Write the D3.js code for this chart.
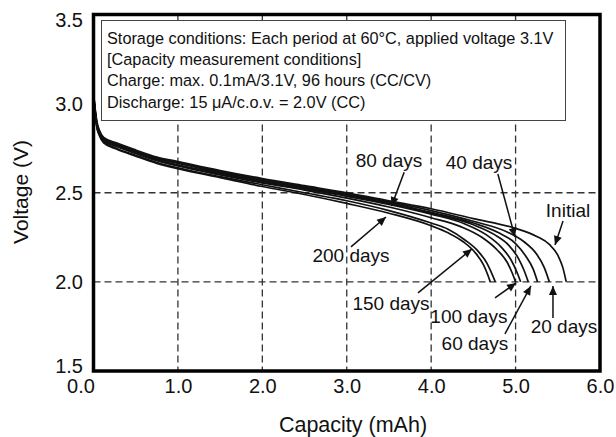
<!DOCTYPE html>
<html>
<head>
<meta charset="utf-8">
<script src="https://cdn.jsdelivr.net/npm/d3@7"></script>
<style>
body { margin: 0; background: #fff; }
text { font-family: "Liberation Sans", Arial, Helvetica, sans-serif; fill: #111; }
</style>
</head>
<body>
<div id="chart"></div>
<script>
// discharge curves, [capacity mAh, voltage V]
let curveInitial = [[0,3.06],[0.02,2.97],[0.04,2.90],[0.07,2.85],[0.12,2.81],[0.27,2.78],[0.5,2.74],[0.75,2.70],[1.0,2.675],[1.5,2.625],[2.0,2.58],[2.5,2.54],[3.0,2.50],[3.5,2.455],[4.0,2.41],[4.5,2.355],[5.0,2.30],[5.25,2.255],[5.4,2.21],[5.5,2.15],[5.56,2.08],[5.6,2.0]]
let curve20 = [[0,3.06],[0.02,2.96],[0.04,2.89],[0.07,2.845],[0.12,2.805],[0.27,2.775],[0.5,2.735],[0.75,2.695],[1.0,2.67],[1.5,2.62],[2.0,2.575],[2.5,2.535],[3.0,2.495],[3.5,2.45],[4.0,2.40],[4.5,2.34],[4.9,2.28],[5.1,2.225],[5.25,2.155],[5.34,2.08],[5.4,2.0]]
let curve40 = [[0,3.05],[0.02,2.96],[0.04,2.885],[0.07,2.84],[0.12,2.80],[0.27,2.77],[0.5,2.73],[0.75,2.69],[1.0,2.665],[1.5,2.615],[2.0,2.57],[2.5,2.53],[3.0,2.49],[3.5,2.445],[4.0,2.39],[4.5,2.33],[4.8,2.275],[5.0,2.215],[5.12,2.145],[5.21,2.07],[5.26,2.0]]
let curve60 = [[0,3.05],[0.02,2.95],[0.04,2.88],[0.07,2.835],[0.12,2.80],[0.27,2.765],[0.5,2.725],[0.75,2.685],[1.0,2.655],[1.5,2.61],[2.0,2.565],[2.5,2.525],[3.0,2.485],[3.5,2.44],[4.0,2.385],[4.5,2.32],[4.75,2.265],[4.92,2.205],[5.03,2.135],[5.1,2.065],[5.15,2.0]]
let curve80 = [[0,3.05],[0.02,2.95],[0.04,2.88],[0.07,2.835],[0.12,2.795],[0.27,2.765],[0.5,2.725],[0.75,2.685],[1.0,2.655],[1.5,2.605],[2.0,2.56],[2.5,2.52],[3.0,2.48],[3.5,2.435],[4.0,2.38],[4.4,2.325],[4.65,2.265],[4.83,2.195],[4.95,2.12],[5.02,2.05],[5.06,2.0]]
let curve100 = [[0,3.04],[0.02,2.95],[0.04,2.875],[0.07,2.83],[0.12,2.79],[0.27,2.76],[0.5,2.72],[0.75,2.68],[1.0,2.65],[1.5,2.60],[2.0,2.555],[2.5,2.515],[3.0,2.47],[3.5,2.42],[4.0,2.36],[4.35,2.31],[4.6,2.25],[4.78,2.18],[4.9,2.11],[4.96,2.05],[5.0,2.0]]
let curve150 = [[0,3.04],[0.02,2.94],[0.04,2.87],[0.07,2.825],[0.12,2.785],[0.27,2.75],[0.5,2.71],[0.75,2.67],[1.0,2.64],[1.5,2.59],[2.0,2.545],[2.5,2.50],[3.0,2.455],[3.5,2.40],[4.0,2.33],[4.2,2.295],[4.4,2.235],[4.55,2.175],[4.66,2.105],[4.72,2.045],[4.76,2.0]]
let curve200 = [[0,3.04],[0.02,2.94],[0.04,2.865],[0.07,2.82],[0.12,2.78],[0.27,2.745],[0.5,2.705],[0.75,2.665],[1.0,2.635],[1.5,2.585],[2.0,2.535],[2.5,2.49],[3.0,2.44],[3.5,2.385],[4.0,2.315],[4.2,2.275],[4.38,2.225],[4.52,2.165],[4.62,2.095],[4.67,2.04],[4.7,2.0]]

let curves = [curveInitial, curve20, curve40, curve60, curve80, curve100, curve150, curve200]

// arrow labels: text, label position, arrow tail, arrow tip (data units)
let labelNames = ["80 days","40 days","Initial","200 days","150 days","100 days","60 days","20 days"]
let labelPos  = [[3.50,2.645],[4.567,2.633],[5.621,2.366],[3.05,2.111],[3.524,1.842],[4.447,1.769],[4.518,1.618],[5.573,1.713]]
let arrowTail = [[3.68,2.615],[4.79,2.605],[5.562,2.342],[3.05,2.196],[3.844,1.938],[4.756,1.910],[4.874,1.708],[5.443,1.797]]
let arrowTip  = [[3.53,2.425],[4.993,2.252],[5.467,2.207],[3.465,2.364],[4.483,2.185],[5.005,1.994],[5.182,1.977],[5.443,1.977]]

let xTicks = [0,1,2,3,4,5,6]
let yTicks = [1.5,2.0,2.5,3.0,3.5]
let xGrid = [1,2,3,4,5]
let yGrid = [2.0,2.5]

let noteLines = [
  "Storage conditions: Each period at 60\u00B0C, applied voltage 3.1V",
  "[Capacity measurement conditions]",
  "Charge: max. 0.1mA/3.1V, 96 hours (CC/CV)",
  "Discharge: 15 \u03BCA/c.o.v. = 2.0V (CC)"
]

let width = 616
let height = 437
let mLeft = 93.5, mRight = 600, mTop = 14.5, mBottom = 371

let x = d3.scaleLinear().domain([0,6]).range([mLeft,mRight])
let y = d3.scaleLinear().domain([1.5,3.5]).range([mBottom,mTop])

let svg = d3.select("#chart").append("svg")
  .attr("width", width)
  .attr("height", height)

svg.append("defs").append("marker")
  .attr("id","head")
  .attr("viewBox","0 0 10 10")
  .attr("refX",10).attr("refY",5)
  .attr("markerUnits","userSpaceOnUse")
  .attr("markerWidth",11).attr("markerHeight",9)
  .attr("orient","auto")
  .append("path")
  .attr("d","M0,0.5 L10,5 L0,9.5 z")
  .style("fill","#111")

//dashed grid
svg.selectAll(".vgrid")
  .data(xGrid)
  .join("line")
  .attr("x1", d => x(d)).attr("x2", d => x(d))
  .attr("y1", mTop).attr("y2", mBottom)
  .style("stroke","#333").style("stroke-width",1.3)
  .style("stroke-dasharray","7,4")

svg.selectAll(".hgrid")
  .data(yGrid)
  .join("line")
  .attr("y1", d => y(d)).attr("y2", d => y(d))
  .attr("x1", mLeft).attr("x2", mRight)
  .style("stroke","#333").style("stroke-width",1.3)
  .style("stroke-dasharray","7,4")

//conditions box
svg.append("rect")
  .attr("x",101.5).attr("y",20.5)
  .attr("width",464).attr("height",100)
  .style("fill","white").style("stroke","#444").style("stroke-width",1)

svg.selectAll(".note")
  .data(noteLines)
  .join("text")
  .attr("x",107)
  .attr("y",(d,i) => 44 + i*21.2)
  .style("font-size","16.3px")
  .text(d => d)

//curves
let line = d3.line()
  .x(d => x(d[0]))
  .y(d => y(d[1]))
  .curve(d3.curveMonotoneX)

svg.selectAll(".curve")
  .data(curves)
  .join("path")
  .attr("d", line)
  .style("fill","none")
  .style("stroke","#111")
  .style("stroke-width",1.7)

//frame
svg.append("rect")
  .attr("x",mLeft).attr("y",mTop)
  .attr("width",mRight-mLeft).attr("height",mBottom-mTop)
  .style("fill","none").style("stroke","#000").style("stroke-width",3.5)

//arrows + labels
svg.selectAll(".arrow")
  .data(arrowTip)
  .join("line")
  .attr("x1",(d,i) => x(arrowTail[i][0])).attr("y1",(d,i) => y(arrowTail[i][1]))
  .attr("x2",d => x(d[0])).attr("y2",d => y(d[1]))
  .style("stroke","#111").style("stroke-width",1.5)
  .attr("marker-end","url(#head)")

svg.selectAll(".lab")
  .data(labelNames)
  .join("text")
  .attr("x",(d,i) => x(labelPos[i][0]))
  .attr("y",(d,i) => y(labelPos[i][1]))
  .attr("text-anchor","middle")
  .style("font-size","19px")
  .text(d => d)

//tick labels
let yAxis = svg.append("g")
  .attr("transform",`translate(${mLeft},0)`)
  .call(d3.axisLeft(y).tickValues(yTicks).tickSize(0).tickPadding(10.5).tickFormat(d3.format(".1f")))
yAxis.select(".domain").remove()
yAxis.selectAll("text")
  .style("font-size","20px").style("font-family",null)
  .attr("dy", d => d == 3.5 ? "0.62em" : d == 1.5 ? "0.05em" : "0.35em")

let xAxis = svg.append("g")
  .attr("transform",`translate(0,${mBottom})`)
  .call(d3.axisBottom(x).tickValues(xTicks).tickSize(0).tickPadding(8).tickFormat(d3.format(".1f")))
xAxis.select(".domain").remove()
xAxis.selectAll("text")
  .style("font-size","20px").style("font-family",null)
  .attr("dx", d => d == 0 ? "-13px" : 0)

//axis titles
svg.append("text")
  .attr("x",353).attr("y",432)
  .attr("text-anchor","middle")
  .style("font-size","21.5px")
  .text("Capacity (mAh)")

svg.append("text")
  .attr("transform","translate(28,192) rotate(-90)")
  .attr("text-anchor","middle")
  .style("font-size","21px")
  .text("Voltage (V)")
</script>
</body>
</html>
